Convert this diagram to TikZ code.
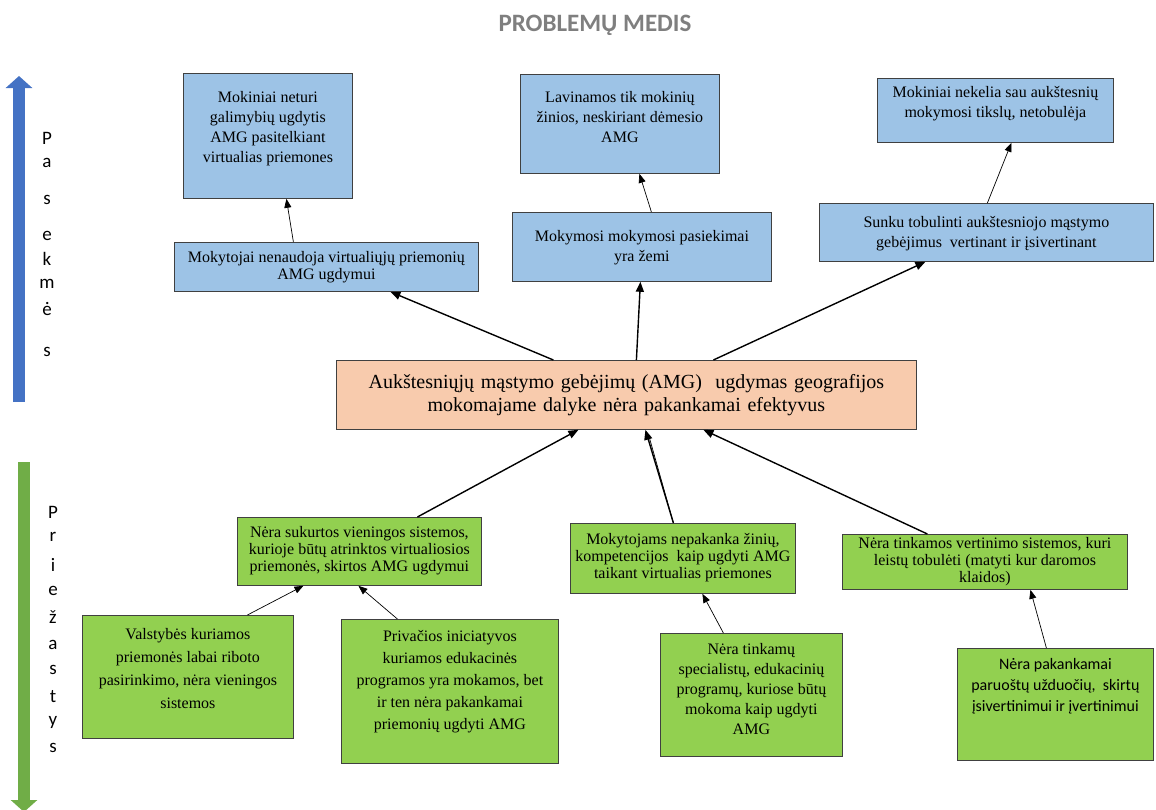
\documentclass[tikz,border=0pt]{standalone}
\usepackage{fontspec}
\setmainfont{Liberation Serif}
\newfontfamily\calibri{Carlito}
\usetikzlibrary{arrows.meta, positioning}

\definecolor{effblue}{HTML}{9DC3E6}
\definecolor{causegreen}{HTML}{92D050}
\definecolor{probpeach}{HTML}{F8CBAD}
\definecolor{arrowblue}{HTML}{4472C4}
\definecolor{arrowgreen}{HTML}{70AD47}
\definecolor{titlegray}{HTML}{7F7F7F}

% top aligned text inside a fixed box: width, height, top pad, text
\newcommand{\boxtext}[4]{\parbox[b][#2][t]{#1}{\vspace*{#3}\centering #4\par}}

\begin{document}
\begin{tikzpicture}[x=1pt, y=-1pt, >={Triangle[length=8pt,width=6pt]},
	effect/.style={
		rectangle, draw=black!75, fill=effblue, line width=0.8pt,
		inner sep=0pt, anchor=north west,
		font=\fontsize{16}{20}\selectfont,
	},
	cause/.style={
		rectangle, draw=black!75, fill=causegreen, line width=0.8pt,
		inner sep=0pt, anchor=north west,
		font=\fontsize{16}{17}\selectfont,
	},
	sideletter/.style={font=\calibri\fontsize{19}{19}\selectfont, inner sep=0pt},
	big/.style={->, line width=1.4pt, >={Triangle[length=10pt,width=8pt]}},
	small/.style={->, line width=0.7pt, >={Triangle[length=9pt,width=7pt]}},
	]
	\useasboundingbox (0,0) rectangle (1156,809);

	\node[font=\calibri\bfseries\fontsize{25}{29}\selectfont, text=titlegray] (T) at (595,25) {PROBLEMŲ MEDIS};

	% side arrows
	\draw[line width=12pt, arrowblue, -{Triangle[length=12pt,width=26pt]}] (19,402) -- (19,76);
	\draw[line width=12pt, arrowgreen, -{Triangle[length=12pt,width=26pt]}] (24,462) -- (24,812);
	\foreach \ch/\yy [count=\i] in {P/138, a/163, s/200, e/236, k/259, m/284, ė/309, s/352}
		\node[sideletter] (pa\i) at (47,\yy) {\ch};
	\foreach \ch/\yy [count=\i] in {P/512, r/537, i/565, e/591, ž/617, a/645, s/670, t/697, y/722, s/748}
		\node[sideletter] (pr\i) at (53,\yy) {\ch};

	% effects
	\node[effect] (E1) at (183,73) {\boxtext{169pt}{125pt}{18pt}{Mokiniai neturi\\ galimybių ugdytis\\ AMG pasitelkiant\\ virtualias priemones}};
	\node[effect, font=\fontsize{16}{17}\selectfont] (E2) at (174,242) {\boxtext{304pt}{49pt}{9pt}{Mokytojai nenaudoja virtualiųjų priemonių\\ AMG ugdymui}};
	\node[effect] (E3) at (520,74) {\boxtext{199pt}{99pt}{17pt}{Lavinamos tik mokinių\\ žinios, neskiriant dėmesio\\ AMG}};
	\node[effect] (E4) at (512,212) {\boxtext{259pt}{69pt}{18pt}{Mokymosi mokymosi pasiekimai\\ yra žemi}};
	\node[effect] (E5) at (877,78) {\boxtext{236pt}{64pt}{8pt}{Mokiniai nekelia sau aukštesnių\\ mokymosi tikslų, netobulėja}};
	\node[effect] (E6) at (819,203) {\boxtext{334pt}{58pt}{13pt}{Sunku tobulinti aukštesniojo mąstymo\\ gebėjimus\ \ vertinant ir įsivertinant}};

	% problem
	\node[rectangle, draw=black!75, fill=probpeach, line width=0.8pt, anchor=north west,
		minimum width=580pt, minimum height=69pt, text width=570pt, inner sep=5pt, align=center,
		font=\fontsize{20}{23}\selectfont] (P) at (336,360)
		{Aukštesniųjų mąstymo gebėjimų (AMG)\ \ ugdymas geografijos\\ mokomajame dalyke nėra pakankamai efektyvus};

	% causes
	\node[cause] (C1) at (237,517) {\boxtext{244pt}{68pt}{9pt}{Nėra sukurtos vieningos sistemos,\\ kurioje būtų atrinktos virtualiosios\\ priemonės, skirtos AMG ugdymui}};
	\node[cause] (C2) at (570,523) {\boxtext{225pt}{70pt}{10pt}{Mokytojams nepakanka žinių,\\ kompetencijos\ \ kaip ugdyti AMG\\ taikant virtualias priemones}};
	\node[cause] (C3) at (842,534) {\boxtext{285pt}{55pt}{3pt}{Nėra tinkamos vertinimo sistemos, kuri\\ leistų tobulėti (matyti kur daromos\\ klaidos)}};
	\node[cause, font=\fontsize{16}{23}\selectfont] (C4) at (82,615) {\boxtext{211pt}{123pt}{13pt}{Valstybės kuriamos\\ priemonės labai riboto\\ pasirinkimo, nėra vieningos\\ sistemos}};
	\node[cause, font=\fontsize{16}{22}\selectfont] (C5) at (341,619) {\boxtext{217pt}{144pt}{11pt}{Privačios iniciatyvos\\ kuriamos edukacinės\\ programos yra mokamos, bet\\ ir ten nėra pakankamai\\ priemonių ugdyti AMG}};
	\node[cause, font=\fontsize{16}{20}\selectfont] (C6) at (660,633) {\boxtext{182pt}{123pt}{10pt}{Nėra tinkamų\\ specialistų, edukacinių\\ programų, kuriose būtų\\ mokoma kaip ugdyti\\ AMG}};
	\node[cause, font=\calibri\fontsize{16}{21}\selectfont] (C7) at (957,648) {\boxtext{196pt}{112pt}{10pt}{Nėra pakankamai\\ paruoštų užduočių,\ \ skirtų\\ įsivertinimui ir įvertinimui}};

	\path ([xshift=-73pt]P.north) edge[big] ([xshift=64pt]E2.south)
	([xshift=10pt]P.north) edge[big] ([xshift=-1.5pt]E4.south)
	([xshift=87pt]P.north) edge[big] ([xshift=-61pt]E6.south)
	([xshift=-33pt]E2.north) edge[small] ([xshift=18.5pt]E1.south)
	([xshift=9.5pt]E4.north) edge[small] ([xshift=19.5pt]E3.south)
	([xshift=1pt]E6.north) edge[small] ([xshift=16pt]E5.south)
	([xshift=58pt]C1.north) edge[big] ([xshift=-48pt]P.south)
	([xshift=-9.5pt]C2.north) edge[big] ([xshift=19pt]P.south)
	([xshift=-9.5pt]C2.north) edge[small, -] ([xshift=23pt,yshift=-8pt]P.south)
	([xshift=-57.5pt]C3.north) edge[big] ([xshift=77pt]P.south)
	([xshift=59.5pt]C4.north) edge[small] ([xshift=-56pt]C1.south)
	([xshift=-52.5pt]C5.north) edge[small] ([xshift=-1pt]C1.south)
	([xshift=-28pt]C6.north) edge[small] ([xshift=19.5pt]C2.south)
	([xshift=-9pt]C7.north) edge[small] ([xshift=45.5pt]C3.south)
	;
\end{tikzpicture}
\end{document}
